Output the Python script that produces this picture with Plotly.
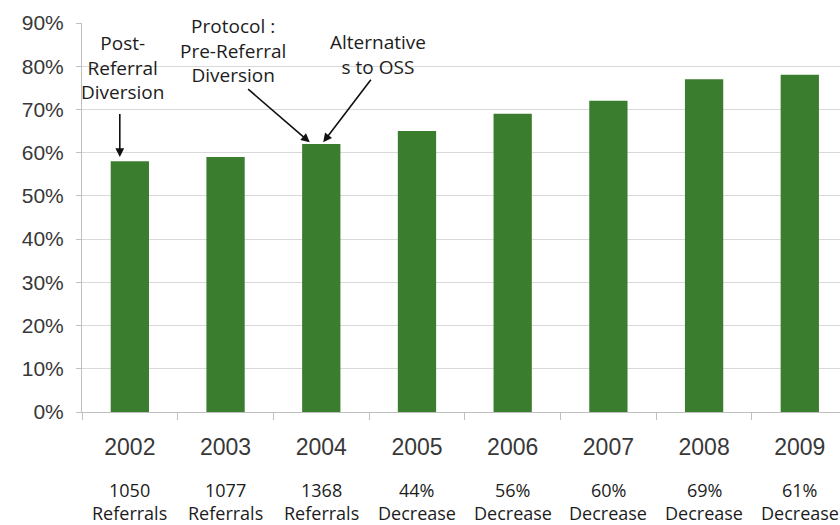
import plotly.graph_objects as go

# Share of referrals diverted, by school year
years = ["2002", "2003", "2004", "2005", "2006", "2007", "2008", "2009"]
rates = [58, 59, 62, 65, 69, 72, 77, 78]

# Percentage axis ticks
y_ticks = [0, 10, 20, 30, 40, 50, 60, 70, 80, 90]
y_tick_labels = ["0%", "10%", "20%", "30%", "40%", "50%", "60%", "70%", "80%", "90%"]

# Notes printed under each year
note_top = ["1050", "1077", "1368", "44%", "56%", "60%", "69%", "61%"]
note_bottom = ["Referrals", "Referrals", "Referrals",
               "Decrease", "Decrease", "Decrease", "Decrease", "Decrease"]

# Program milestones: (label, text x, text y, arrow start x/y, arrow tip x/y)
milestones = [
    ("Post-<br>Referral<br>Diversion", -0.08, 79.6, -0.105, 69.3, -0.105, 59.0),
    ("Protocol :<br>Pre-Referral<br>Diversion", 1.08, 83.6, 1.22, 75.0, 1.88, 62.4),
    ("Alternative<br>s to OSS", 2.59, 82.6, 2.53, 77.2, 2.02, 62.4),
]

BAR = "#3b7d2e"
AXIS_TXT = "#383838"
NOTE_TXT = "#1c1c1c"
W, H = 840, 525
M_L, M_T, M_B = 82, 23, 113
plot_h = H - M_T - M_B

fig = go.Figure(
    go.Bar(
        x=years,
        y=rates,
        marker=dict(color=BAR, line=dict(width=0)),
        hoverinfo="x+y",
    )
)

annotations = []
for label, tx, ty, sx, sy, ex, ey in milestones:
    annotations.append(dict(
        x=tx, y=ty, xref="x", yref="y", text=label, showarrow=False,
        xanchor="center", yanchor="middle", align="center",
        font=dict(family="Open Sans", size=19, color=NOTE_TXT),
    ))
    annotations.append(dict(
        x=ex, y=ey, xref="x", yref="y",
        ax=sx, ay=sy, axref="x", ayref="y",
        text="", showarrow=True, arrowhead=2, arrowsize=1.1,
        arrowwidth=1.6, arrowcolor="#111111",
    ))


def paper_y(px):
    return (H - M_B - px) / plot_h


for i, (a, b) in enumerate(zip(note_top, note_bottom)):
    annotations.append(dict(
        x=i, y=paper_y(490), xref="x", yref="paper", text=a, showarrow=False,
        xanchor="center", yanchor="middle",
        font=dict(family="Open Sans", size=18, color=NOTE_TXT),
    ))
    annotations.append(dict(
        x=i, y=paper_y(513), xref="x", yref="paper", text=b, showarrow=False,
        xanchor="center", yanchor="middle",
        font=dict(family="Open Sans", size=18, color=NOTE_TXT),
    ))

fig.update_layout(
    width=W, height=H,
    margin=dict(l=M_L, r=0, t=M_T, b=M_B),
    paper_bgcolor="white", plot_bgcolor="white",
    bargap=0.6,
    showlegend=False,
    annotations=annotations,
    xaxis=dict(
        type="category",
        range=[-0.5, 7.42],
        showgrid=False,
        showline=True, linecolor="#bfbfbf", linewidth=1,
        ticks="outside", tickson="boundaries", ticklen=7, tickcolor="#bfbfbf",
        tickfont=dict(family="Liberation Sans", size=23, color=AXIS_TXT),
        ticklabelstandoff=14,
    ),
    yaxis=dict(
        range=[0, 90],
        tickmode="array",
        tickvals=y_ticks,
        ticktext=y_tick_labels,
        showgrid=True, gridcolor="#d9d9d9", gridwidth=1,
        showline=True, linecolor="#bfbfbf", linewidth=1,
        ticks="outside", ticklen=5, tickcolor="#bfbfbf",
        tickfont=dict(family="Liberation Sans", size=21, color=AXIS_TXT),
        ticklabelstandoff=8,
        zeroline=False,
    ),
)

fig.write_html("out.html")
